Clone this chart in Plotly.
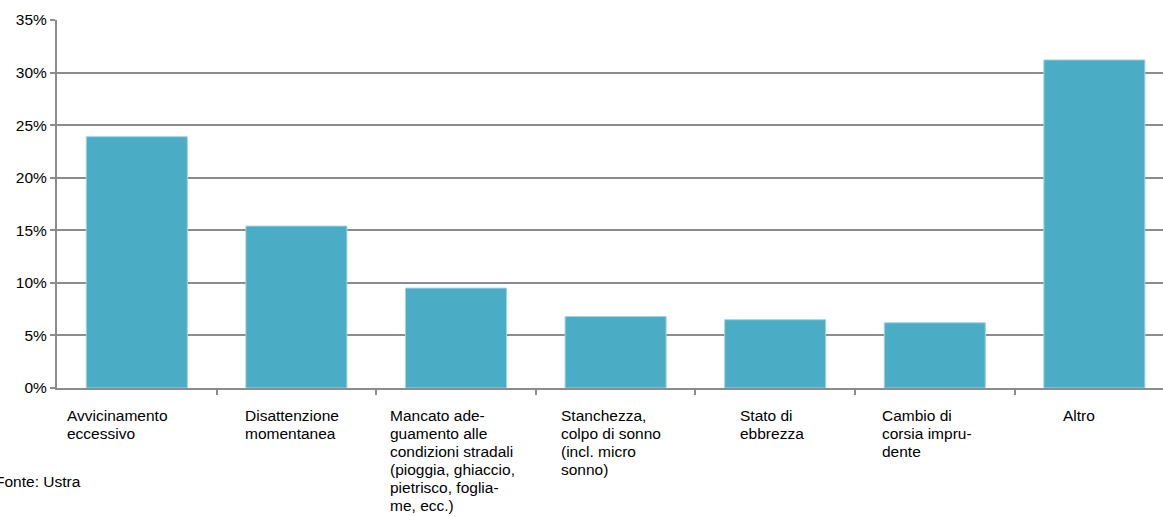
import plotly.graph_objects as go

# Cause di incidente (quota percentuale)
categories = [
    "Avvicinamento<br>eccessivo",
    "Disattenzione<br>momentanea",
    "Mancato ade-<br>guamento alle<br>condizioni stradali<br>(pioggia, ghiaccio,<br>pietrisco, foglia-<br>me, ecc.)",
    "Stanchezza,<br>colpo di sonno<br>(incl. micro<br>sonno)",
    "Stato di<br>ebbrezza",
    "Cambio di<br>corsia impru-<br>dente",
    "Altro",
]
shares = [23.9, 15.4, 9.5, 6.8, 6.5, 6.2, 31.2]
y_ticks = [0, 5, 10, 15, 20, 25, 30, 35]
source_note = "Fonte: Ustra"

# left edge of each wrapped label, relative to its category centre
label_shift = [-0.449, -0.334, -0.426, -0.354, -0.233, -0.343, -0.209]
LINE_PX = 18

FONT = "Liberation Sans, Arial, sans-serif"
GRID = "#8c8c8c"
FS = 15.5

idx = list(range(len(categories)))

fig = go.Figure(
    go.Bar(
        x=idx,
        y=shares,
        width=0.633,
        marker=dict(color="#4bacc6", line=dict(color="#9fd3e0", width=1)),
        hoverinfo="skip",
    )
)

annotations = []
for i, (lab, dx) in enumerate(zip(categories, label_shift)):
    for k, line in enumerate(lab.split("<br>")):
        annotations.append(
            dict(
                x=i + dx, y=-0.045, xref="x", yref="paper", yshift=-LINE_PX * k,
                text=line, showarrow=False, xanchor="left", yanchor="top",
                align="left", font=dict(family=FONT, size=FS, color="#000000"),
            )
        )
annotations.append(
    dict(
        x=-0.058, y=-0.253, xref="paper", yref="paper",
        text=source_note, showarrow=False, xanchor="left", yanchor="middle",
        align="left", font=dict(family=FONT, size=FS, color="#000000"),
    )
)

fig.update_layout(
    width=1163, height=517,
    margin=dict(l=57, r=0, t=20, b=129),
    paper_bgcolor="white", plot_bgcolor="white",
    showlegend=False,
    annotations=annotations,
    xaxis=dict(
        range=[-0.5, 6.43],
        tickmode="array",
        tickvals=[i + 0.5 for i in idx[:-1]],
        showticklabels=False,
        ticks="outside", ticklen=5, tickwidth=2, tickcolor=GRID,
        showgrid=False, zeroline=False,
        showline=True, linecolor=GRID, linewidth=2,
        fixedrange=True,
    ),
    yaxis=dict(
        range=[0, 35],
        tickmode="array",
        tickvals=y_ticks,
        ticktext=[f"{v}%" for v in y_ticks],
        ticks="outside", ticklen=5, tickwidth=2, tickcolor=GRID,
        tickfont=dict(family=FONT, size=FS, color="#000000"),
        showgrid=True, gridcolor=GRID, gridwidth=2,
        zeroline=False,
        showline=True, linecolor=GRID, linewidth=2,
        fixedrange=True,
    ),
)

fig.write_html("out.html")
